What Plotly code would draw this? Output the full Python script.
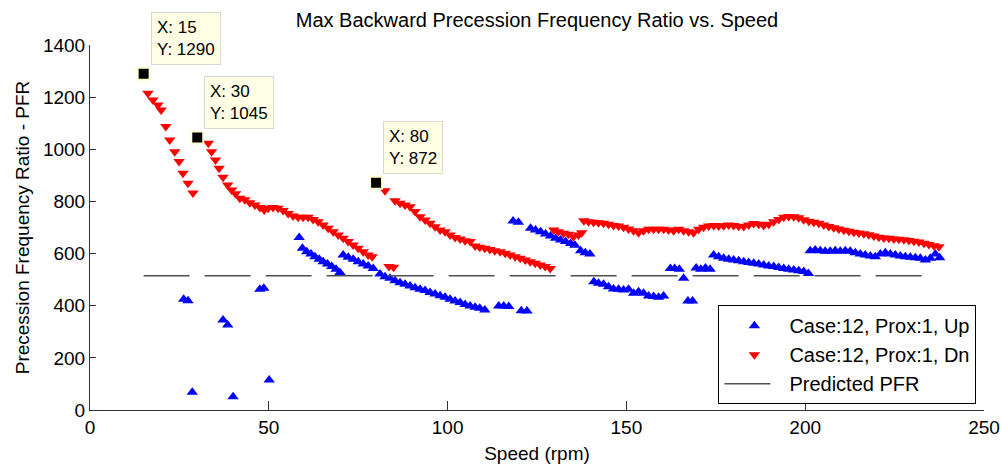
import plotly.graph_objects as go

# ---------------- data ----------------
dn_x = [16.2, 17.6, 19.0, 19.9, 21.2, 22.3, 23.7, 24.9, 26.0, 27.4, 28.8,
        33.1, 34.0, 35.1, 36.1, 37.2, 38.5, 39.6, 40.7, 41.9, 43.3, 44.7, 46.1, 47.5, 48.7,
        49.8, 51.2, 52.6, 54.0, 55.4, 56.8, 58.2, 59.6, 61.0, 62.4, 63.8, 65.2, 66.6, 68.0,
        69.4, 70.8, 72.2, 73.6, 75.0, 76.4, 77.8, 78.9,
        82.5, 83.6, 84.9,
        85.3, 86.7, 88.1, 89.5, 90.9, 92.3, 93.7, 95.1, 96.5, 97.9, 99.3, 100.7, 102.1, 103.5,
        104.9, 106.3, 107.7, 109.0, 110.4, 111.8, 113.2, 114.7, 116.1, 117.5, 118.9, 120.3,
        121.7, 123.1, 124.5, 125.9, 127.3, 128.7,
        129.7, 131.0, 132.4, 133.8, 135.2, 136.6, 137.5,
        138.1, 139.4, 140.8, 142.2, 143.6, 145.0, 146.4, 147.8, 149.2, 150.6, 152.0, 153.4,
        154.8, 156.2, 157.6, 159.0, 160.4, 161.8, 163.2, 164.6, 166.0, 167.4, 168.8, 170.2,
        171.6, 173.0, 174.4, 175.8, 177.2, 178.6, 180.0, 181.4, 182.8, 184.2, 185.6, 187.0,
        188.4, 189.8, 191.2, 192.6, 194.0, 195.4, 196.8, 198.2, 199.6, 201.0, 202.4, 203.8,
        205.2, 206.6, 208.0, 209.4, 210.8, 212.2, 213.6, 215.0, 216.4, 217.8, 219.2, 220.6,
        222.0, 223.4, 224.8, 226.2, 227.6, 229.0, 230.4, 231.8, 233.2, 234.6, 236.0, 237.4]
dn_y = [1215, 1189, 1170, 1151, 1087, 1036, 991, 953, 908, 870, 832,
        1023, 991, 959, 927, 893, 863, 844, 829, 812, 806, 795, 786, 777, 767,
        774, 777, 774, 765, 754, 744, 739, 739, 739, 731, 722, 710, 697, 684,
        671, 659, 646, 633, 620, 607, 595, 588,
        841, 550, 548,
        803, 793, 786, 780, 761, 741, 729, 716, 703, 690, 684, 671, 662, 656,
        649, 646, 629, 624, 620, 616, 611, 607, 601, 595, 588, 582,
        575, 569, 563, 556, 550, 543,
        690, 684, 678, 674, 665, 671, 680,
        726, 722, 720, 718, 716, 712, 708, 706, 701, 694, 688, 680,
        688, 693, 693, 693, 693, 690, 688, 693, 688, 684, 680, 693,
        701, 706, 708, 706, 707, 710, 708, 705, 704, 710, 715, 712,
        708, 712, 722, 731, 739, 742, 741, 737, 730, 724, 720, 716,
        710, 704, 699, 694, 689, 686, 682, 679, 676, 672, 667, 663,
        660, 659, 656, 655, 653, 650, 647, 644, 640, 635, 630, 626]

up_x = [26.2, 27.4, 28.6, 37.2, 38.5, 40.0, 47.5, 48.6, 50.1,
        58.5, 59.4, 60.6, 61.8, 62.9, 64.1, 65.2, 66.4, 67.6, 68.8, 69.9,
        70.8, 72.2, 73.6, 75.0, 76.4, 77.8, 79.2, 81.1, 82.5, 83.9, 85.3, 86.7, 88.1, 89.5,
        90.9, 92.3, 93.7, 95.1, 96.5, 97.9, 99.3, 100.7, 102.1, 103.5, 104.9, 106.3, 107.7,
        109.0, 110.4,
        114.3, 115.7, 117.1, 120.6, 122.2,
        118.3, 119.8,
        123.2, 124.6, 126.0, 127.4, 128.8, 130.2, 131.6, 133.0, 134.4, 135.6, 137.2, 138.5, 139.8,
        140.9, 142.2, 143.6, 145.0, 146.4, 147.8, 149.2, 150.6, 152.0, 153.4, 154.8, 156.2,
        157.6, 159.0, 160.4,
        162.3, 163.5, 164.8, 166.0, 167.2, 168.5, 169.5, 170.8, 172.1, 173.4,
        174.4, 175.8, 177.2, 178.6, 180.0, 181.4, 182.8, 184.2, 185.6, 187.0, 188.4, 189.8,
        191.2, 192.6, 194.0, 195.4, 196.8, 198.2, 199.6, 200.9,
        201.4, 202.8, 204.2, 205.6, 207.0, 208.4, 209.8, 211.2, 212.6, 214.0, 215.4, 216.8,
        218.2, 219.6, 221.0, 222.4, 223.8, 225.2, 226.6, 228.0, 229.4, 230.8, 232.2, 233.6,
        235.0, 236.4, 237.6]
up_y = [425, 419, 68, 345, 326, 51, 463, 467, 115,
        662, 620, 607, 598, 588, 578, 569, 560, 550, 540, 527,
        595, 586, 578, 569, 560, 552, 543, 522, 511, 505, 496, 488, 482, 476,
        469, 463, 458, 451, 445, 438, 432, 425, 418, 412, 405, 399, 394,
        390, 384,
        399, 399, 397, 381, 380,
        725, 720,
        697, 690, 684, 675, 667, 659, 652, 646, 639, 632, 611, 603, 598,
        492, 486, 482, 473, 464, 463, 460, 463, 448, 454, 448, 437,
        435, 432, 437,
        543, 543, 540, 505, 418, 418, 545, 540, 545, 540,
        595, 588, 582, 578, 575, 572, 569, 566, 563, 560, 556, 552,
        550, 547, 543, 540, 537, 534, 531, 524,
        611, 614, 611, 609, 609, 611, 609, 611, 609, 603, 598, 595,
        591, 588, 598, 603, 598, 595, 591, 588, 586, 584, 582, 575,
        582, 598, 584]

pfr_x = [15, 235]
pfr_y = [515, 515]

tip_x = [15, 30, 80]
tip_y = [1290, 1045, 872]

x_ticks = [0, 50, 100, 150, 200, 250]
y_ticks = [0, 200, 400, 600, 800, 1000, 1200, 1400]

FONT = "Liberation Sans, Arial, sans-serif"

fig = go.Figure()
fig.add_trace(go.Scatter(
    x=up_x, y=up_y, mode="markers", name="Case:12, Prox:1, Up", legendgroup="a",
    marker=dict(symbol="triangle-up", size=10, color="#0000FF", line=dict(width=0)),
))
fig.add_trace(go.Scatter(
    x=dn_x, y=dn_y, mode="markers", name="Case:12, Prox:1, Dn", legendgroup="b",
    marker=dict(symbol="triangle-down", size=10, color="#FF0000", line=dict(width=0)),
))
fig.add_trace(go.Scatter(
    x=pfr_x, y=pfr_y, mode="lines", name="Predicted PFR", legendgroup="c",
    line=dict(color="#505050", width=1.5, dash="46px,15px"),
))
fig.add_trace(go.Scatter(
    x=tip_x, y=tip_y, mode="markers", showlegend=False,
    marker=dict(symbol="square", size=12, color="black", line=dict(width=2, color="#FFFFD0")),
))

for tx, ty in zip(tip_x, tip_y):
    fig.add_annotation(
        x=tx, y=ty, xref="x", yref="y", showarrow=False,
        text=f"X: {tx}<br>Y: {ty}", align="left",
        xanchor="left", yanchor="bottom", xshift=7, yshift=9,
        font=dict(family=FONT, size=17, color="black"),
        bgcolor="#FFFFE6", bordercolor="#D8D8D0", borderwidth=1, borderpad=5,
    )

fig.update_layout(
    width=1002, height=464,
    margin=dict(l=90, r=18, t=45, b=54),
    paper_bgcolor="white", plot_bgcolor="white",
    font=dict(family=FONT, size=19, color="black"),
    title=dict(text="Max Backward Precession Frequency Ratio vs. Speed",
               x=0.5, xref="paper", y=0.957, yref="container",
               xanchor="center", yanchor="middle",
               font=dict(family=FONT, size=20, color="black")),
    showlegend=True,
    legend=dict(x=0.9915, y=0.016, xanchor="right", yanchor="bottom",
                bgcolor="white", bordercolor="black", borderwidth=1,
                font=dict(family=FONT, size=20, color="black"),
                traceorder="grouped", tracegroupgap=0, itemwidth=60),
    xaxis=dict(range=[0, 250], tickvals=x_ticks, ticks="inside", ticklen=9,
               tickcolor="#333333", showline=True, linecolor="#333333", linewidth=1,
               showgrid=False, zeroline=False, mirror=False, automargin=False,
               title=dict(text="Speed (rpm)", standoff=9,
                          font=dict(family=FONT, size=19)),
               tickfont=dict(family=FONT, size=19)),
    yaxis=dict(range=[0, 1400], tickvals=y_ticks, ticks="inside", ticklen=6,
               tickcolor="#333333", showline=True, linecolor="#333333", linewidth=1,
               showgrid=False, zeroline=False, mirror=False, automargin=False,
               title=dict(text="Precession Frequency Ratio - PFR", standoff=8,
                          font=dict(family=FONT, size=19)),
               tickfont=dict(family=FONT, size=19)),
)

fig.write_html("out.html")
